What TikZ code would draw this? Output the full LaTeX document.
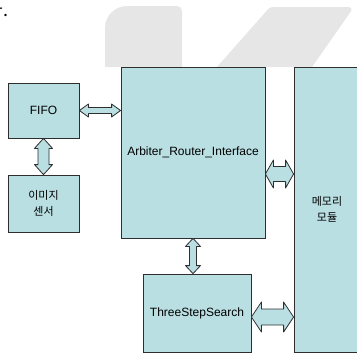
\documentclass[tikz,border=0pt]{standalone}
\usepackage{fontspec}
\setmainfont{Liberation Sans}
\newfontfamily\kr{Noto Sans CJK KR}
\usetikzlibrary{calc, positioning}
\definecolor{blockfill}{HTML}{B9DFE3}
\definecolor{blockline}{HTML}{2E2E2E}
\definecolor{wmgray}{HTML}{E6E6E6}

% double block arrows between node anchors: start, end, shaft half, head half, head length
\newcommand{\hblock}[5]{%
  \draw[blockarr] let \p1=#1, \p2=#2 in
    (\x1,\y1) -- (\x1+#5pt,\y1+#4pt) -- (\x1+#5pt,\y1+#3pt) -- (\x2-#5pt,\y1+#3pt)
    -- (\x2-#5pt,\y1+#4pt) -- (\x2,\y1) -- (\x2-#5pt,\y1-#4pt) -- (\x2-#5pt,\y1-#3pt)
    -- (\x1+#5pt,\y1-#3pt) -- (\x1+#5pt,\y1-#4pt) -- cycle;}
\newcommand{\vblock}[5]{%
  \draw[blockarr] let \p1=#1, \p2=#2 in
    (\x1,\y1) -- (\x1+#4pt,\y1-#5pt) -- (\x1+#3pt,\y1-#5pt) -- (\x1+#3pt,\y2+#5pt)
    -- (\x1+#4pt,\y2+#5pt) -- (\x1,\y2) -- (\x1-#4pt,\y2+#5pt) -- (\x1-#3pt,\y2+#5pt)
    -- (\x1-#3pt,\y1-#5pt) -- (\x1-#4pt,\y1-#5pt) -- cycle;}

\begin{document}
\begin{tikzpicture}[x=1pt, y=-1pt,
    block/.style={draw=blockline, line width=0.8pt, fill=blockfill, inner sep=0pt,
                  align=center, font=\fontsize{12}{14}\selectfont},
    krtext/.style={font=\kr\fontsize{11}{15.5}\selectfont},
    blockarr/.style={draw=blockline, line width=0.8pt, fill=blockfill, line join=round},
    wmark/.style={fill=wmgray}
  ]
  \useasboundingbox (0,0) rectangle (357,354);

  % watermark and cut-off text of the page behind
  \fill[wmark] (105,67) [rounded corners=22pt] -- (105,6) [rounded corners=5pt] -- (182,6)
    [sharp corners] -- (182,67) -- cycle;
  \fill[wmark] (217,67) [rounded corners=3pt] -- (270,7) [rounded corners=6pt] -- (354,7)
    [sharp corners] -- (312,67) -- cycle;
  \begin{scope}
    \clip (0,0) rectangle (357,354);
    \node[font=\kr\fontsize{18}{18}\selectfont, anchor=base east] (cut) at (12,16) {다.};
  \end{scope}

  % blocks
  \node[block, minimum width=71pt, minimum height=55pt] (fifo) at (43.5,110.5) {FIFO};
  \node[block, krtext, minimum width=71pt, minimum height=57pt] (sensor) at (43.5,203.5)
    {이미지\\센서};
  \node[block, minimum width=144pt, minimum height=171pt] (arb) at (193,152.5)
    {Arbiter\_Router\_Interface};
  \node[block, minimum width=108pt, minimum height=78pt] (tss) at (197,313)
    {ThreeStepSearch};
  \node[block, krtext, minimum width=66pt, minimum height=285pt] (mem) at (327,209.5)
    {메모리\\모듈};

  % connectors
  \hblock{(fifo.east)}{(arb.west)}{3}{6.5}{9}
  \vblock{(fifo.south)}{(sensor.north)}{5.5}{9}{10}
  \vblock{(arb.south)}{(tss.north)}{3.5}{7.5}{8}
  \hblock{($(arb.east)+(0,21.5)$)}{(mem.west)}{7.5}{14}{8}
  \hblock{($(tss.east)+(0,4)$)}{(mem.west)}{8}{15}{10}
\end{tikzpicture}
\end{document}
